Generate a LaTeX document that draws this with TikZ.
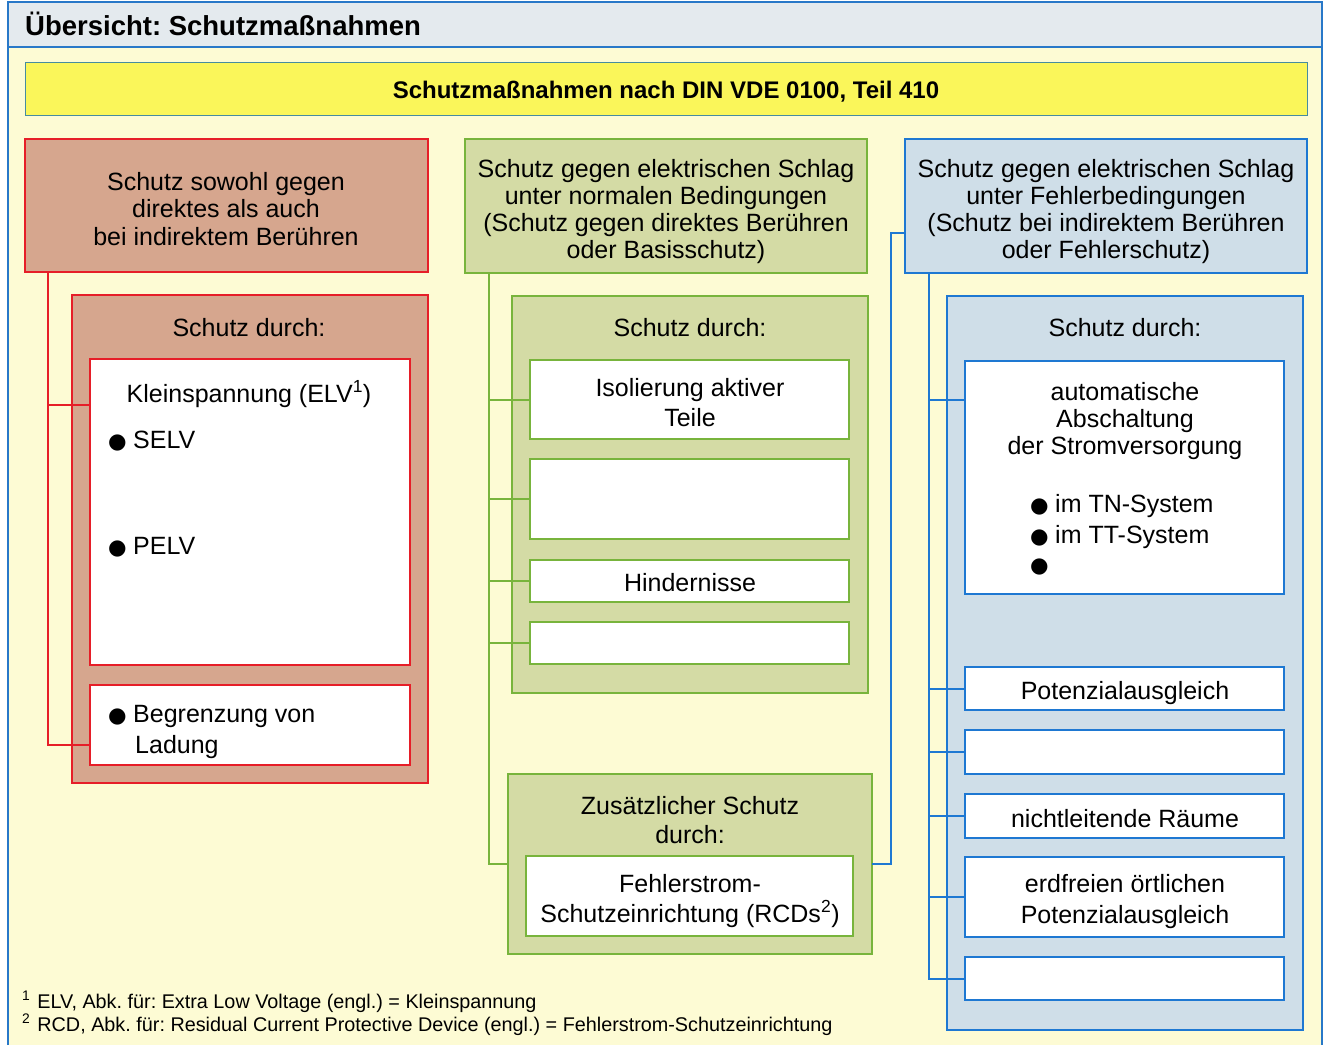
\documentclass[tikz,border=0pt]{standalone}
\usepackage{fontspec}
\setmainfont{Liberation Sans}
\frenchspacing
\newfontfamily\myBulFam[Scale=0.85]{DejaVu Sans}
\newcommand\myBody{\fontsize{25}{27}\selectfont}
\newcommand\myTitle{\fontsize{27.5}{30}\selectfont\bfseries}
\newcommand\myBanner{\fontsize{24}{26}\selectfont\bfseries}
\newcommand\myFoot{\fontsize{19.8}{23}\selectfont}
\newcommand\myBul{\makebox[25pt][l]{\myBulFam ●}}
\newcommand\bx[6]{\node[#2,anchor=north west,minimum width={(#5-#3)*1pt},minimum height={(#6-#4)*1pt}] (#1) at (#3,#4) {};}
\definecolor{bgY}{RGB}{253,251,212}
\definecolor{titleB}{RGB}{228,234,238}
\definecolor{frameB}{RGB}{40,120,200}
\definecolor{banY}{RGB}{250,246,90}
\definecolor{banLine}{RGB}{70,140,160}
\definecolor{redF}{RGB}{214,166,142}
\definecolor{redL}{RGB}{230,30,40}
\definecolor{grnF}{RGB}{212,219,165}
\definecolor{grnL}{RGB}{120,180,60}
\definecolor{bluF}{RGB}{207,222,232}
\definecolor{bluL}{RGB}{30,120,210}
\begin{document}
\begin{tikzpicture}[x=1pt,y=-1pt,
  box/.style={draw,line width=1.5pt,inner sep=0pt,outer sep=0pt},
  rbox/.style={box,draw=redL,fill=redF},
  rwbox/.style={box,draw=redL,fill=white},
  gbox/.style={box,draw=grnL,fill=grnF},
  gwbox/.style={box,draw=grnL,fill=white},
  bbox/.style={box,draw=bluL,fill=bluF},
  bwbox/.style={box,draw=bluL,fill=white},
  txt/.style={inner sep=0pt,font=\myBody,anchor=base},
  txtl/.style={inner sep=0pt,font=\myBody,anchor=base west},
  rline/.style={draw=redL,line width=2pt},
  gline/.style={draw=grnL,line width=2pt},
  bline/.style={draw=bluL,line width=2pt},
]
\useasboundingbox (0,0) rectangle (1326,1045);
\fill[white] (0,0) rectangle (1326,1045);
\fill[bgY] (8,47) rectangle (1322,1045);
\fill[titleB] (8,2) rectangle (1322,47);
\draw[frameB,line width=1.5pt] (8,1045) -- (8,2) -- (1322,2) -- (1322,1045);
\draw[frameB,line width=1.5pt] (8,47) -- (1322,47);
\node[anchor=base west,inner sep=0pt,font=\myTitle] (title) at (25,35) {Übersicht: Schutzmaßnahmen};

\bx{banner}{box,draw=banLine,fill=banY,line width=1pt}{25}{62}{1307}{115}
\node[anchor=base,inner sep=0pt,font=\myBanner] (bant) at (666,98.5) {Schutzmaßnahmen nach DIN VDE 0100, Teil 410};

% red column
\bx{rtop}{rbox}{25}{139}{428}{272}
\node[txt] (rt1) at (226,190) {Schutz sowohl gegen};
\node[txt] (rt2) at (226,217) {direktes als auch};
\node[txt] (rt3) at (226,245) {bei indirektem Berühren};
\bx{rin}{rbox}{72}{295}{428}{783}
\node[txt] (rlab) at (249,336) {Schutz durch:};
\bx{klein}{rwbox}{90}{359}{410}{665}
\node[txt] (kt) at (249,402) {Kleinspannung (ELV\textsuperscript{1})};
\node[txtl] (selv) at (108,448) {\myBul SELV};
\node[txtl] (pelv) at (108,554) {\myBul PELV};
\bx{begr}{rwbox}{90}{685}{410}{765}
\node[txtl] (bt1) at (108,722) {\myBul Begrenzung von};
\node[txtl] (bt2) at (135,753) {Ladung};

% green column
\bx{gtop}{gbox}{465}{139}{867}{273}
\node[txt] (gt1) at (666,177) {Schutz gegen elektrischen Schlag};
\node[txt] (gt2) at (666,204) {unter normalen Bedingungen};
\node[txt] (gt3) at (666,231) {(Schutz gegen direktes Berühren};
\node[txt] (gt4) at (666,258) {oder Basisschutz)};
\bx{gin}{gbox}{512}{296}{868}{693}
\node[txt] (glab) at (690,336) {Schutz durch:};
\bx{iso}{gwbox}{530}{360}{849}{439}
\node[txt] (iso1) at (690,396) {Isolierung aktiver};
\node[txt] (iso2) at (690,426) {Teile};
\bx{ge1}{gwbox}{530}{459}{849}{539}
\bx{hind}{gwbox}{530}{560}{849}{602}
\node[txt] (hindt) at (690,591) {Hindernisse};
\bx{ge2}{gwbox}{530}{622}{849}{664}
\bx{zus}{gbox}{508}{774}{872}{954}
\node[txt] (zt1) at (690,814) {Zusätzlicher Schutz};
\node[txt] (zt2) at (690,843) {durch:};
\bx{rcd}{gwbox}{526}{856}{853}{936}
\node[txt] (rcd1) at (690,892) {Fehlerstrom-};
\node[txt] (rcd2) at (690,922) {Schutzeinrichtung (RCDs\textsuperscript{2})};

% blue column
\bx{btop}{bbox}{905}{139}{1307}{273}
\node[txt] (bt1a) at (1106,177) {Schutz gegen elektrischen Schlag};
\node[txt] (bt2a) at (1106,204) {unter Fehlerbedingungen};
\node[txt] (bt3a) at (1106,231) {(Schutz bei indirektem Berühren};
\node[txt] (bt4a) at (1106,258) {oder Fehlerschutz)};
\bx{bin}{bbox}{947}{296}{1303}{1030}
\node[txt] (blab) at (1125,336) {Schutz durch:};
\bx{auto}{bwbox}{965}{361}{1284}{594}
\node[txt] (at1) at (1125,400) {automatische};
\node[txt] (at2) at (1125,427) {Abschaltung};
\node[txt] (at3) at (1125,454) {der Stromversorgung};
\node[txtl] (tn) at (1030,512) {\myBul im TN-System};
\node[txtl] (tt) at (1030,543) {\myBul im TT-System};
\node[txtl] (b3) at (1030,572) {\myBul};
\bx{pot}{bwbox}{965}{667}{1284}{710}
\node[txt] (pott) at (1125,699) {Potenzialausgleich};
\bx{be1}{bwbox}{965}{730}{1284}{774}
\bx{nicht}{bwbox}{965}{794}{1284}{838}
\node[txt] (nichtt) at (1125,827) {nichtleitende Räume};
\bx{erd}{bwbox}{965}{857}{1284}{937}
\node[txt] (erd1) at (1125,892) {erdfreien örtlichen};
\node[txt] (erd2) at (1125,923) {Potenzialausgleich};
\bx{be2}{bwbox}{965}{957}{1284}{1000}

% connectors
\coordinate (rs) at ([xshift=23pt]rtop.south west);
\draw[rline] (rs) |- (klein.west |- 0,405);
\draw[rline] (rs) |- (begr.west |- 0,745);

\coordinate (gs) at ([xshift=24pt]gtop.south west);
\foreach \n in {iso,ge1,hind,ge2,zus} \draw[gline] (gs) |- (\n.west);

\coordinate (bs) at ([xshift=24pt]btop.south west);
\draw[bline] (bs) |- (auto.west |- 0,400);
\foreach \n in {pot,be1,nicht,erd,be2} \draw[bline] (bs) |- (\n.west);
\coordinate (bk) at (891,233);
\draw[bline] (btop.west |- bk) -- (bk) |- (zus.east);

% footnotes
\node[anchor=base west,inner sep=0pt,font=\myFoot] (fn1) at (22,1008) {\textsuperscript{1}\hspace{7pt}ELV, Abk. für: Extra Low Voltage (engl.) = Kleinspannung};
\node[anchor=base west,inner sep=0pt,font=\myFoot] (fn2) at (22,1031) {\textsuperscript{2}\hspace{7pt}RCD, Abk. für: Residual Current Protective Device (engl.) = Fehlerstrom-Schutzeinrichtung};
\end{tikzpicture}
\end{document}
